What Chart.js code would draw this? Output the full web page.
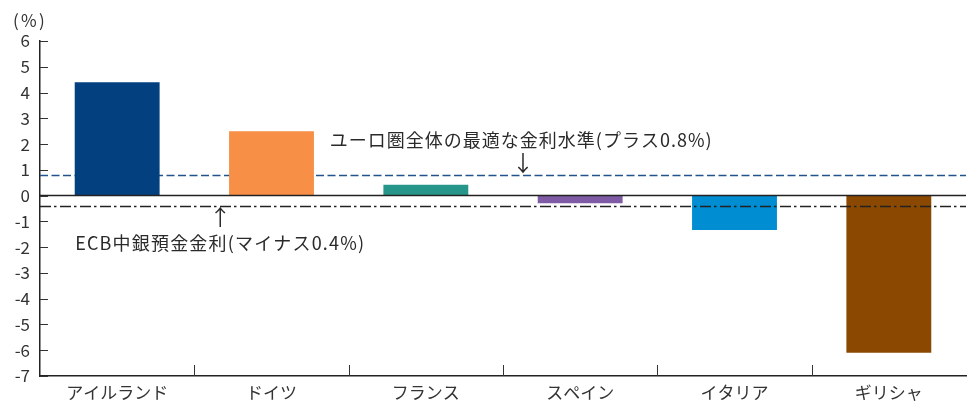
<!DOCTYPE html>
<html>
<head>
<meta charset="utf-8">
<script src="https://cdn.jsdelivr.net/npm/chart.js@4"></script>
<style>
  html, body { margin: 0; padding: 0; background: #fff; }
  #wrap { width: 975px; height: 403px; position: relative; }
</style>
</head>
<body>
<div id="wrap"><canvas id="myChart" width="975" height="403"></canvas></div>
<script>
// data
const countries = ['アイルランド', 'ドイツ', 'フランス', 'スペイン', 'イタリア', 'ギリシャ'];
const rateGap = [4.4, 2.5, 0.42, -0.3, -1.33, -6.1];
const barColors = ['#034080', '#f78f47', '#26968a', '#7f5ba6', '#008dd1', '#8b4800'];
const yTicks = [6, 5, 4, 3, 2, 1, 0, -1, -2, -3, -4, -5, -6, -7];
const optimalRate = 0.8;
const ecbRate = -0.4;
const optimalLabel = 'ユーロ圏全体の最適な金利水準(プラス0.8%)';
const ecbLabel = 'ECB中銀預金金利(マイナス0.4%)';
const unitLabel = '(%)';

const FONT = '"Noto Sans CJK JP", "Noto Sans", sans-serif';
const INK = '#333';

// squeeze/stretch a label to a given width
function fitText(ctx, str, x, y, w) {
  ctx.letterSpacing = '0px';
  const m = ctx.measureText(str).width;
  const n = [...str].length;
  ctx.letterSpacing = ((w - m) / n).toFixed(2) + 'px';
  ctx.fillText(str, x, y);
  ctx.letterSpacing = '0px';
}

// reference lines + ticks + annotations
const extras = {
  id: 'extras',
  beforeDatasetsDraw(chart) {
    const {ctx, chartArea: a, scales: {y}} = chart;
    ctx.save();
    // optimal rate, dashed
    ctx.strokeStyle = '#23538c';
    ctx.lineWidth = 1.4;
    ctx.setLineDash([8, 3.5]);
    let py = Math.round(y.getPixelForValue(optimalRate)) + 0.5;
    ctx.beginPath(); ctx.moveTo(a.left, py); ctx.lineTo(a.right, py); ctx.stroke();
    ctx.restore();
  },
  afterDatasetsDraw(chart) {
    const {ctx, chartArea: a, scales: {x, y}} = chart;
    ctx.save();
    // zero line
    ctx.strokeStyle = '#222';
    ctx.lineWidth = 1.5;
    let zy = y.getPixelForValue(0);
    ctx.beginPath(); ctx.moveTo(a.left, zy); ctx.lineTo(a.right, zy); ctx.stroke();
    // ECB rate, dash-dot
    ctx.lineWidth = 1.4;
    ctx.setLineDash([11, 3, 2.5, 3.5]);
    let ey = Math.round(y.getPixelForValue(ecbRate)) + 0.5;
    ctx.beginPath(); ctx.moveTo(a.left, ey); ctx.lineTo(a.right, ey); ctx.stroke();
    ctx.setLineDash([]);

    // y tick marks (inside)
    ctx.strokeStyle = INK;
    ctx.lineWidth = 1;
    yTicks.forEach(v => {
      const t = Math.round(y.getPixelForValue(v)) + 0.5;
      ctx.beginPath(); ctx.moveTo(a.left, t); ctx.lineTo(a.left + 8, t); ctx.stroke();
    });
    // x tick marks at category boundaries (inside)
    for (let i = 1; i < countries.length; i++) {
      const bx = Math.round(x.getPixelForValue(i - 0.5)) + 0.5;
      ctx.beginPath(); ctx.moveTo(bx, a.bottom); ctx.lineTo(bx, a.bottom - 11); ctx.stroke();
    }

    // annotations
    ctx.fillStyle = '#2a2a2a';
    ctx.font = '18px ' + FONT;
    ctx.textBaseline = 'middle';
    ctx.textAlign = 'left';
    const oy = y.getPixelForValue(optimalRate);
    fitText(ctx, optimalLabel, x.getPixelForValue(1.5) - 19, oy - 35, 383);
    const ey2 = y.getPixelForValue(ecbRate);
    fitText(ctx, ecbLabel, x.getPixelForValue(0) - 42, ey2 + 37, 290);
    // arrows
    ctx.font = '22px ' + FONT;
    ctx.textAlign = 'center';
    ctx.fillText('↓', x.getPixelForValue(2.5) + 20, oy - 12);
    ctx.fillText('↑', x.getPixelForValue(0.5) + 26, ey2 + 11);
    // unit
    ctx.textAlign = 'left';
    ctx.font = '17px ' + FONT;
    ctx.fillStyle = INK;
    fitText(ctx, unitLabel, 13, 21, 34);
    ctx.restore();
  }
};

const ctx = document.getElementById('myChart').getContext('2d');
const mychart = new Chart(ctx, {
  type: 'bar',
  data: {
    labels: countries,
    datasets: [{
      data: rateGap,
      backgroundColor: barColors,
      borderWidth: 0,
      categoryPercentage: 1,
      barPercentage: 0.55
    }]
  },
  options: {
    responsive: false,
    animation: false,
    layout: { padding: { top: 41, right: 9, bottom: 0, left: 0 } },
    plugins: { legend: { display: false }, tooltip: { enabled: false } },
    scales: {
      x: {
        grid: { display: false, drawTicks: false },
        border: { color: '#222', width: 1.5 },
        ticks: { color: INK, font: { family: FONT, size: 17 }, padding: 6, maxRotation: 0 },
        afterFit(s) { s.height = 27; }
      },
      y: {
        min: -7, max: 6,
        afterBuildTicks(s) { s.ticks = yTicks.map(v => ({ value: v })); },
        grid: { display: false, drawTicks: false },
        border: { color: '#222', width: 1.5 },
        ticks: { color: INK, font: { family: FONT, size: 17 }, padding: 10 },
        afterFit(s) { s.width = 40; }
      }
    }
  },
  plugins: [extras]
});
</script>
</body>
</html>
